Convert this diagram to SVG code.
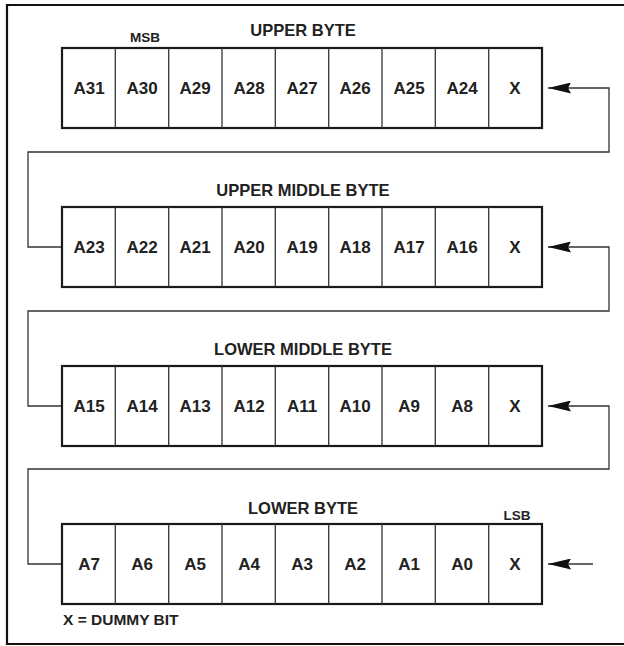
<svg xmlns="http://www.w3.org/2000/svg" width="624" height="646" viewBox="0 0 624 646">
<defs>
<style>
.frame{fill:none;stroke:#111;stroke-width:2.2}
.box{fill:#fff;stroke:#1a1a1a;stroke-width:2.2}
.div{stroke:#333;stroke-width:1.3}
.conn{fill:none;stroke:#333;stroke-width:1.3}
text{font-family:"Liberation Sans",Arial,sans-serif;font-weight:bold;fill:#222;text-anchor:middle}
.cell{font-size:17px}
.title{font-size:16.5px}
.small{font-size:13.5px}
.note{font-size:15.5px;text-anchor:start}
</style>
<marker id="arr" viewBox="0 0 23 11" refX="23" refY="5.5" markerWidth="23" markerHeight="11" markerUnits="userSpaceOnUse" orient="auto">
<path d="M0,0 L23,5.5 L0,11 L3,5.5 z" fill="#111"/>
</marker>
</defs>
<rect width="624" height="646" fill="#fff"/>
<path class="frame" d="M626,5 H7 V644 H626"/>

<g id="connectors">
<path class="conn" d="M62,247 H28 V152 H609 V88 H548" marker-end="url(#arr)"/>
<path class="conn" d="M62,406 H28 V311 H609 V247 H548" marker-end="url(#arr)"/>
<path class="conn" d="M62,564 H28 V469 H609 V406 H548" marker-end="url(#arr)"/>
<path class="conn" d="M593,564 H548" marker-end="url(#arr)"/>
</g>

<g id="upper-byte">
<text class="title" x="303" y="36">UPPER BYTE</text>
<text class="small" x="145" y="42">MSB</text>
<rect class="box" x="62" y="48" width="480" height="80"/>
<path class="div" d="M115.3,48V128M168.7,48V128M222,48V128M275.3,48V128M328.7,48V128M382,48V128M435.3,48V128M488.7,48V128"/>
<g class="cell">
<text x="89" y="94">A31</text><text x="142" y="94">A30</text><text x="195" y="94">A29</text><text x="249" y="94">A28</text><text x="302" y="94">A27</text><text x="355" y="94">A26</text><text x="409" y="94">A25</text><text x="462" y="94">A24</text><text x="515" y="94">X</text>
</g>
</g>

<g id="upper-middle-byte">
<text class="title" x="303" y="196">UPPER MIDDLE BYTE</text>
<rect class="box" x="62" y="207" width="480" height="80"/>
<path class="div" d="M115.3,207V287M168.7,207V287M222,207V287M275.3,207V287M328.7,207V287M382,207V287M435.3,207V287M488.7,207V287"/>
<g class="cell">
<text x="89" y="253">A23</text><text x="142" y="253">A22</text><text x="195" y="253">A21</text><text x="249" y="253">A20</text><text x="302" y="253">A19</text><text x="355" y="253">A18</text><text x="409" y="253">A17</text><text x="462" y="253">A16</text><text x="515" y="253">X</text>
</g>
</g>

<g id="lower-middle-byte">
<text class="title" x="303" y="355">LOWER MIDDLE BYTE</text>
<rect class="box" x="62" y="366" width="480" height="80"/>
<path class="div" d="M115.3,366V446M168.7,366V446M222,366V446M275.3,366V446M328.7,366V446M382,366V446M435.3,366V446M488.7,366V446"/>
<g class="cell">
<text x="89" y="412">A15</text><text x="142" y="412">A14</text><text x="195" y="412">A13</text><text x="249" y="412">A12</text><text x="302" y="412">A11</text><text x="355" y="412">A10</text><text x="409" y="412">A9</text><text x="462" y="412">A8</text><text x="515" y="412">X</text>
</g>
</g>

<g id="lower-byte">
<text class="title" x="303" y="514">LOWER BYTE</text>
<text class="small" x="517" y="520">LSB</text>
<rect class="box" x="62" y="524" width="480" height="80"/>
<path class="div" d="M115.3,524V604M168.7,524V604M222,524V604M275.3,524V604M328.7,524V604M382,524V604M435.3,524V604M488.7,524V604"/>
<g class="cell">
<text x="89" y="570">A7</text><text x="142" y="570">A6</text><text x="195" y="570">A5</text><text x="249" y="570">A4</text><text x="302" y="570">A3</text><text x="355" y="570">A2</text><text x="409" y="570">A1</text><text x="462" y="570">A0</text><text x="515" y="570">X</text>
</g>
</g>

<g id="legend">
<text class="note" x="63" y="625">X = DUMMY BIT</text>
</g>
</svg>
